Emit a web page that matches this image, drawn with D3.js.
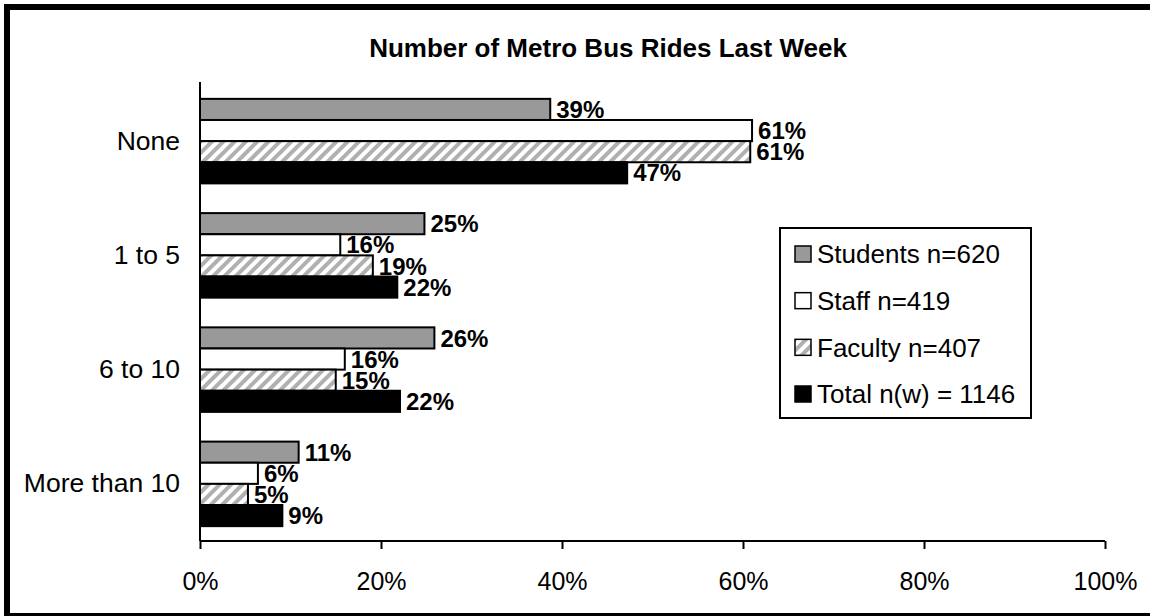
<!DOCTYPE html>
<html>
<head>
<meta charset="utf-8">
<script src="https://cdn.jsdelivr.net/npm/d3@7"></script>
<style>
  html, body { margin: 0; padding: 0; background: #fff; overflow: hidden; }
  svg { display: block; font-family: Arial, "Liberation Sans", sans-serif; overflow: hidden; }
</style>
</head>
<body>
<svg id="chart" width="1150" height="616"></svg>
<script>
const categories = ["None", "1 to 5", "6 to 10", "More than 10"];
const seriesNames = ["Students n=620", "Staff n=419", "Faculty n=407", "Total n(w) = 1146"];
const students = [38.7, 24.8, 25.9, 10.9];
const staff = [61.0, 15.5, 16.0, 6.4];
const faculty = [60.8, 19.1, 15.0, 5.3];
const total = [47.2, 21.8, 22.1, 9.1];
const xTicks = [0, 20, 40, 60, 80, 100];
const chartTitle = "Number of Metro Bus Rides Last Week";

const seriesValues = [students, staff, faculty, total];

const svg = d3.select("#chart");
const defs = svg.append("defs");
const pat = defs.append("pattern")
  .attr("id", "hatch").attr("patternUnits", "userSpaceOnUse")
  .attr("width", 8).attr("height", 8)
  .attr("patternTransform", "rotate(45)");
pat.append("rect").attr("width", 8).attr("height", 8).attr("fill", "#fff");
pat.append("rect").attr("x", 0).attr("width", 4).attr("height", 8).attr("fill", "#b0b0b0");

const fills = ["#999999", "#ffffff", "url(#hatch)", "#000000"];

// outer frame: top, left, bottom (right edge lies outside the view)
svg.append("path").attr("d", "M4,7H1150").attr("stroke", "#000").attr("stroke-width", 6);
svg.append("path").attr("d", "M7,4V616").attr("stroke", "#000").attr("stroke-width", 6);
svg.append("path").attr("d", "M4,614.5H1150").attr("stroke", "#000").attr("stroke-width", 3);

const pLeft = 200, pRight = 1105, pTop = 84, pBottom = 541;
const x = d3.scaleLinear().domain([0, 100]).range([pLeft, pRight]);
const y = d3.scaleBand().domain(categories).range([pTop, pBottom]).paddingInner(0.26).paddingOuter(0.13);
const yInner = d3.scaleBand().domain(d3.range(4)).range([0, y.bandwidth()]);

svg.append("text").attr("x", 608).attr("y", 57).attr("text-anchor", "middle")
  .attr("font-weight", "bold").attr("font-size", 26).text(chartTitle);

const g = svg.append("g");
seriesValues.forEach((vals, si) => {
  g.selectAll(".b" + si).data(vals).enter().append("rect")
    .attr("x", x(0))
    .attr("y", (d, i) => y(categories[i]) + yInner(si))
    .attr("width", d => x(d) - x(0))
    .attr("height", yInner.bandwidth())
    .attr("fill", fills[si])
    .attr("stroke", "#000").attr("stroke-width", 2);
});
seriesValues.forEach((vals, si) => {
  g.selectAll(".l" + si).data(vals).enter().append("text")
    .attr("x", d => x(d) + 6)
    .attr("y", (d, i) => y(categories[i]) + yInner(si) + yInner.bandwidth() / 2)
    .attr("dy", "0.36em")
    .attr("font-weight", "bold").attr("font-size", 24)
    .text(d => Math.round(d) + "%");
});

// x axis
const xAxis = svg.append("g").attr("transform", `translate(0,${pBottom})`)
  .call(d3.axisBottom(x).tickValues(xTicks).tickFormat(d => d + "%").tickSize(8).tickPadding(23));
xAxis.select(".domain").attr("stroke-width", 2).attr("d", `M${pLeft},0H${pRight}`);
xAxis.selectAll(".tick line").attr("stroke-width", 2);
xAxis.selectAll(".tick text").attr("font-size", 25).attr("font-family", "Arial, 'Liberation Sans', sans-serif").attr("fill", "#000");

// y axis
const yAxis = svg.append("g").attr("transform", `translate(${pLeft},0)`)
  .call(d3.axisLeft(y).tickSize(0).tickPadding(20));
yAxis.select(".domain").attr("stroke-width", 2).attr("d", `M0,${pTop - 2}V${pBottom}`);
yAxis.selectAll(".tick text").attr("font-size", 26.5).attr("font-family", "Arial, 'Liberation Sans', sans-serif").attr("fill", "#000");

// legend
const lg = svg.append("g");
lg.append("rect").attr("x", 780).attr("y", 228).attr("width", 251).attr("height", 190)
  .attr("fill", "#fff").attr("stroke", "#000").attr("stroke-width", 2);
const ly = d3.scalePoint().domain(seriesNames).range([254, 394]);
seriesNames.forEach((n, i) => {
  lg.append("rect").attr("x", 795).attr("y", ly(n) - 8).attr("width", 16).attr("height", 16)
    .attr("fill", fills[i]).attr("stroke", "#000").attr("stroke-width", 1.5);
  lg.append("text").attr("x", 817).attr("y", ly(n)).attr("dy", "0.36em")
    .attr("font-size", 26).text(n);
});
</script>
</body>
</html>
